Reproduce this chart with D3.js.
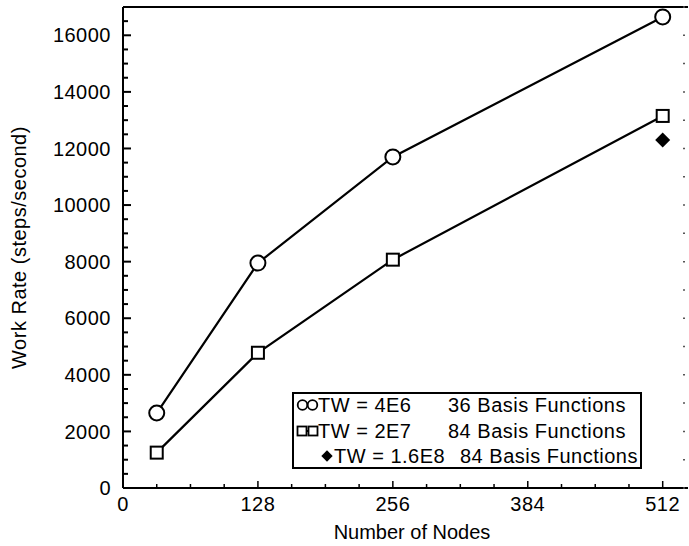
<!DOCTYPE html>
<html><head><meta charset="utf-8">
<script src="https://cdn.jsdelivr.net/npm/d3@7"></script>
<style>body{margin:0;background:#fff}svg{display:block}text{font-family:"Liberation Sans",Arial,sans-serif;fill:#000;letter-spacing:0.5px}</style>
</head><body>
<script>
const nodes = [32, 128, 256, 512];
const tw4e6 = [2650, 7950, 11700, 16650];
const tw2e7 = [1250, 4780, 8070, 13150];
const tw16e8X = [512];
const tw16e8 = [12300];
const xTicks = [0, 128, 256, 384, 512];
const yTicks = [0, 2000, 4000, 6000, 8000, 10000, 12000, 14000, 16000];
const legendLabels = ["TW = 4E6", "TW = 2E7", "TW = 1.6E8"];
const legendBasis = ["36 Basis Functions", "84 Basis Functions", "84 Basis Functions"];

const W = 689, H = 546;
const m = {l: 123, r: 1, t: 7, b: 58};
const svg = d3.select("body").append("svg").attr("width", W).attr("height", H);
const x = d3.scaleLinear().domain([0, 536]).range([m.l, W - m.r]);
const y = d3.scaleLinear().domain([0, 17000]).range([H - m.b, m.t]);
const fs = 20;

svg.append("line").attr("x1", m.l).attr("x2", W - 1).attr("y1", m.t).attr("y2", m.t).attr("stroke", "#000").attr("stroke-width", 2);

const ya = svg.append("g").attr("transform", `translate(${m.l},0)`);
ya.append("line").attr("x1", 0).attr("x2", 0).attr("y1", m.t).attr("y2", H - m.b).attr("stroke", "#000").attr("stroke-width", 2);
d3.range(0, 17001, 500).forEach(v => {
  const major = v % 2000 === 0;
  ya.append("line").attr("x1", 0).attr("x2", major ? 8 : 5).attr("y1", y(v)).attr("y2", y(v)).attr("stroke", "#000").attr("stroke-width", 2);
});
ya.selectAll("text.yl").data(yTicks).join("text").attr("class", "yl")
  .attr("x", -12).attr("y", d => y(d)).attr("dy", "0.36em").attr("text-anchor", "end")
  .attr("font-size", fs).text(d => d);

const xa = svg.append("g").attr("transform", `translate(0,${H - m.b})`);
xa.append("line").attr("x1", m.l).attr("x2", W - 1).attr("y1", 0).attr("y2", 0).attr("stroke", "#000").attr("stroke-width", 2);
d3.range(0, 537, 32).forEach(v => {
  const major = v % 128 === 0;
  xa.append("line").attr("x1", x(v)).attr("x2", x(v)).attr("y1", 0).attr("y2", major ? -7 : -4).attr("stroke", "#000").attr("stroke-width", 1.5);
});
xa.selectAll("text.xl").data(xTicks).join("text").attr("class", "xl")
  .attr("x", d => x(d)).attr("y", 23).attr("text-anchor", "middle").attr("font-size", fs).text(d => d);

d3.range(0, 17001, 1000).forEach(v => {
  svg.append("line").attr("x1", W - 6).attr("x2", W - 4).attr("y1", y(v)).attr("y2", y(v)).attr("stroke", "#555").attr("stroke-width", 1.5);
});

svg.append("text").attr("x", 412).attr("y", 539).attr("text-anchor", "middle").attr("font-size", fs).style("letter-spacing", "0px").text("Number of Nodes");
svg.append("text").attr("transform", `translate(26,${(m.t + H - m.b) / 2}) rotate(-90)`).attr("text-anchor", "middle").attr("font-size", fs).text("Work Rate (steps/second)");

const line = d3.line().x((d, i) => x(nodes[i])).y(d => y(d));
[tw4e6, tw2e7].forEach(s => {
  svg.append("path").attr("d", line(s)).attr("fill", "none").attr("stroke", "#000").attr("stroke-width", 2.2);
});
svg.selectAll("circle.c").data(tw4e6).join("circle").attr("class", "c")
  .attr("cx", (d, i) => x(nodes[i])).attr("cy", d => y(d)).attr("r", 7.5)
  .attr("fill", "#fff").attr("stroke", "#000").attr("stroke-width", 2);
const sq = 12;
svg.selectAll("rect.s").data(tw2e7).join("rect").attr("class", "s")
  .attr("x", (d, i) => x(nodes[i]) - sq / 2).attr("y", d => y(d) - sq / 2).attr("width", sq).attr("height", sq)
  .attr("fill", "#fff").attr("stroke", "#000").attr("stroke-width", 2);
svg.selectAll("path.dm").data(tw16e8).join("path").attr("class", "dm")
  .attr("transform", (d, i) => `translate(${x(tw16e8X[i])},${y(d)}) rotate(45)`)
  .attr("d", d3.symbol().type(d3.symbolSquare).size(112)).attr("fill", "#000");

const lg = svg.append("g");
lg.append("rect").attr("x", 293).attr("y", 393).attr("width", 348).attr("height", 75)
  .attr("fill", "#fff").attr("stroke", "#000").attr("stroke-width", 2);
const rowsY = [405, 431, 456];
lg.append("line").attr("x1", 302).attr("x2", 313).attr("y1", rowsY[0]).attr("y2", rowsY[0]).attr("stroke", "#000").attr("stroke-width", 2);
[302.5, 312.5].forEach(cx => lg.append("circle").attr("cx", cx).attr("cy", rowsY[0]).attr("r", 4.8).attr("fill", "#fff").attr("stroke", "#000").attr("stroke-width", 1.8));
lg.append("line").attr("x1", 302).attr("x2", 313).attr("y1", rowsY[1]).attr("y2", rowsY[1]).attr("stroke", "#000").attr("stroke-width", 2);
[302, 313].forEach(cx => lg.append("rect").attr("x", cx - 4.5).attr("y", rowsY[1] - 4.5).attr("width", 9).attr("height", 9).attr("fill", "#fff").attr("stroke", "#000").attr("stroke-width", 1.8));
lg.append("path").attr("transform", `translate(327,${rowsY[2]}) rotate(45)`).attr("d", d3.symbol().type(d3.symbolSquare).size(64)).attr("fill", "#000");
const twX = [318, 318, 334];
const bfX = [448, 448, 460];
legendLabels.forEach((t, i) => {
  lg.append("text").attr("x", twX[i]).attr("y", rowsY[i]).attr("dy", "0.36em").attr("font-size", fs).text(t);
  lg.append("text").attr("x", bfX[i]).attr("y", rowsY[i]).attr("dy", "0.36em").attr("font-size", fs).text(legendBasis[i]);
});
</script>
</body></html>
